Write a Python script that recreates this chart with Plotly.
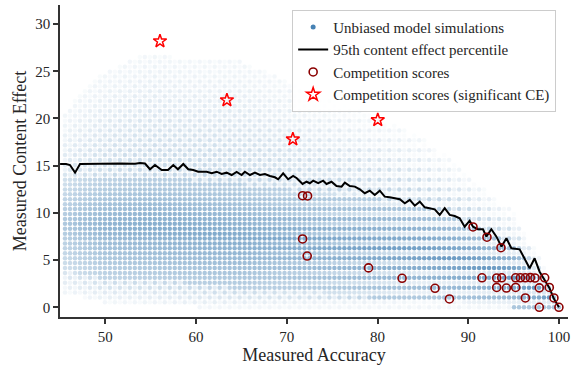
import numpy as np
import plotly.graph_objects as go

# ---- 95th content effect percentile (black line) ----
pct_acc = [45.01, 45.67, 46.1, 46.66, 47.21, 49.4, 51.6, 53.27, 53.82, 54.37, 54.92, 55.47,
           56.21, 56.9, 57.49, 58.0, 58.59, 59.14, 59.69, 60.24, 61.17, 61.72, 62.27, 62.82,
           63.37, 63.92, 64.47, 65.02, 65.38, 65.94, 66.49, 67.04, 67.59, 68.14, 68.69, 69.05,
           69.6, 70.15, 70.7, 71.11, 71.74, 72.18, 72.54, 72.91, 73.46, 74.01, 74.38, 74.93,
           75.48, 76.04, 76.4, 76.95, 77.5, 78.05, 78.6, 79.15, 79.7, 80.25, 80.8, 81.35,
           81.9, 82.46, 83.01, 83.56, 84.11, 84.66, 85.21, 85.76, 86.31, 86.86, 87.41, 87.96,
           88.51, 89.06, 89.61, 90.16, 90.53, 91.08, 91.63, 92.0, 92.55, 93.11, 93.66, 94.21,
           94.76, 95.67, 96.77, 97.32, 97.87, 98.42, 98.97, 99.42, 100.0]
pct_ce = [15.18, 15.18, 15.07, 14.26, 15.18, 15.23, 15.23, 15.21, 15.29, 15.23, 14.62, 15.07,
          14.54, 14.54, 15.07, 14.62, 15.18, 14.62, 14.54, 14.36, 14.36, 14.19, 14.36, 14.12,
          14.26, 14.01, 14.33, 14.01, 14.36, 14.01, 14.26, 14.01, 14.12, 13.91, 13.77, 13.56,
          14.19, 13.56, 13.91, 13.67, 13.06, 13.3, 13.14, 13.41, 13.14, 13.41, 13.06, 13.3,
          12.85, 12.78, 13.2, 12.85, 12.78, 12.5, 12.08, 12.35, 11.9, 12.35, 11.72, 11.65,
          11.55, 11.44, 11.02, 11.37, 10.76, 11.19, 10.59, 10.49, 10.38, 9.78, 10.49, 9.78,
          9.67, 9.43, 8.54, 9.17, 8.54, 8.26, 8.26, 7.48, 8.26, 7.48, 6.42, 7.31,
          6.25, 6.14, 4.13, 5.19, 3.77, 2.89, 2.01, 0.95, 0.0]

# ---- Competition scores ----
comp_acc = [71.74, 72.29, 71.74, 72.25, 79.01, 82.71, 86.34, 87.93, 90.53, 92.07, 93.61,
            91.52, 93.14, 93.69, 93.14, 94.21, 95.23, 95.75, 96.3, 96.85, 97.36, 98.43,
            95.23, 97.84, 98.94, 96.3, 99.45, 97.84, 100.0]
comp_ce = [11.82, 11.79, 7.24, 5.43, 4.17, 3.07, 2.01, 0.88, 8.51, 7.42, 6.31,
           3.12, 3.1, 3.12, 2.1, 2.04, 3.12, 3.12, 3.12, 3.14, 3.1, 3.12,
           2.1, 2.06, 2.1, 0.99, 0.99, 0.0, 0.0]

# ---- Competition scores with significant content effect ----
sig_acc = [56.02, 63.4, 70.67, 80.03]
sig_ce = [28.19, 21.94, 17.8, 19.84]

# ---- Unbiased model simulations: density bands ----
band_acc = [45, 47.5, 50, 55, 60, 65, 70, 75, 80, 85, 90, 95, 98, 100]
band_faint_top = [20, 23, 25, 27, 26, 26, 24, 22, 20, 18, 14, 10, 5, 0.5]
band_core_top = [13.5, 14, 14, 14, 13.5, 13, 12.5, 12, 11.5, 10.5, 9, 6.5, 3.2, 0.3]
band_core_bot = [4, 3.5, 3, 3, 2.5, 2, 2, 1.5, 1, 1, 0.5, 0, 0, 0]
band_faint_bot = [1.5, 1, 0.5, 0.3, 0, 0, 0, 0, 0, 0, 0, 0, 0, 0]
band_peak_alpha = [0.42, 0.52, 0.6, 0.66, 0.68, 0.68, 0.7, 0.72, 0.75, 0.78, 0.8, 0.82, 0.82, 0.82]

sim_x, sim_y, sim_a = [], [], []
for k in range(0, 101):
    x = 100 - 0.55 * k
    if x < 45.1:
        break
    ft = np.interp(x, band_acc, band_faint_top)
    ct = np.interp(x, band_acc, band_core_top)
    cb = np.interp(x, band_acc, band_core_bot)
    fb = np.interp(x, band_acc, band_faint_bot)
    pa = np.interp(x, band_acc, band_peak_alpha)
    odd_factor = np.interp(x, [65, 85], [1.0, 0.25])
    j = 0
    while j * 0.52 <= ft + 1e-6:
        y = j * 0.52
        if cb <= y <= ct:
            mid = 0.5 * (cb + ct)
            half = max(0.5 * (ct - cb), 1e-6)
            s = 1 - abs(y - mid) / half
            a = pa * (0.55 + 0.45 * s)
        elif y > ct:
            t = (y - ct) / max(ft - ct, 1e-6)
            a = 0.07 + (pa * 0.5 - 0.07) * (1 - t) ** 1.2
            if (j + k) % 2 == 1:
                a *= 0.5
        elif y >= fb:
            t = (cb - y) / max(cb - fb, 1e-6)
            a = 0.07 + (pa * 0.5 - 0.07) * (1 - t)
            if (j + k) % 2 == 1:
                a *= 0.5
        else:
            a = 0
        if j % 2 == 1:
            a *= odd_factor
        if a > 0.015:
            sim_x.append(x)
            sim_y.append(y)
            sim_a.append(a)
        j += 1

SERIF = "Liberation Serif"
TXT = "#262626"

fig = go.Figure()
fig.add_trace(go.Scatter(x=sim_x, y=sim_y, mode="markers", showlegend=False,
                         marker=dict(color="rgb(70,130,180)", size=4.5, opacity=sim_a,
                                     line=dict(width=0)),
                         hoverinfo="skip"))
# legend entries (in order)
fig.add_trace(go.Scatter(x=[None], y=[None], mode="markers", name="Unbiased model simulations",
                         marker=dict(color="rgb(70,130,180)", size=5)))
fig.add_trace(go.Scatter(x=pct_acc, y=pct_ce, mode="lines", name="95th content effect percentile",
                         line=dict(color="black", width=2)))
fig.add_trace(go.Scatter(x=comp_acc, y=comp_ce, mode="markers", name="Competition scores",
                         marker=dict(symbol="circle-open", color="#8b0000", size=8,
                                     line=dict(width=1.6, color="#8b0000"))))
fig.add_trace(go.Scatter(x=sig_acc, y=sig_ce, mode="markers",
                         name="Competition scores (significant CE)",
                         marker=dict(symbol="star-open", color="red", size=10,
                                     line=dict(width=1.5, color="red"))))

axis_common = dict(showline=True, linecolor="#333333", linewidth=1.5, ticks="outside",
                   ticklen=5, tickwidth=1.5, tickcolor="#333333", showgrid=False,
                   zeroline=False, mirror=False, automargin=False,
                   tickfont=dict(family=SERIF, size=15, color=TXT))

fig.update_layout(
    width=573, height=370,
    margin=dict(l=60, r=5, t=5, b=53),
    paper_bgcolor="white", plot_bgcolor="white",
    font=dict(family=SERIF, color=TXT),
    xaxis=dict(range=[45, 101], tickvals=[50, 60, 70, 80, 90, 100],
               title=dict(text="Measured Accuracy", font=dict(family=SERIF, size=18, color=TXT),
                          standoff=5),
               **axis_common),
    yaxis=dict(range=[-1.03, 32.02], tickvals=[0, 5, 10, 15, 20, 25, 30],
               title=dict(text="Measured Content Effect", font=dict(family=SERIF, size=18, color=TXT),
                          standoff=4),
               **axis_common),
    legend=dict(x=0.457, y=0.985, xanchor="left", yanchor="top",
                bgcolor="rgba(255,255,255,0.85)", bordercolor="#cccccc", borderwidth=1,
                font=dict(family=SERIF, size=15, color=TXT)),
    showlegend=True,
)

fig.write_html("out.html", config={"displayModeBar": False},
               post_script="document.body.style.margin='0';")
